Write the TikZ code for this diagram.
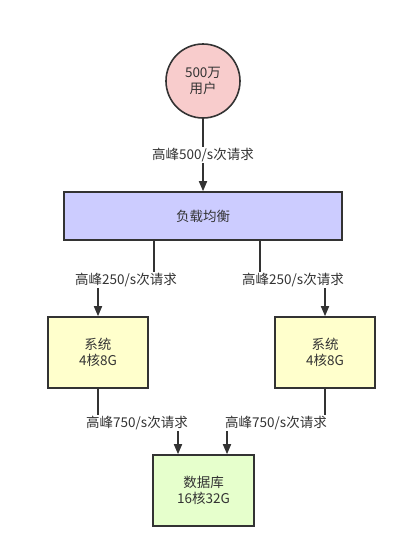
\documentclass[tikz,border=0pt]{standalone}
\usepackage{fontspec}
\setmainfont{Noto Sans CJK SC}
\usetikzlibrary{arrows.meta}
\definecolor{inkgray}{HTML}{333333}
\definecolor{userpink}{HTML}{F8CCCC}
\definecolor{lbblue}{HTML}{CCCCFF}
\definecolor{sysyellow}{HTML}{FFFFCC}
\definecolor{dbgreen}{HTML}{E6FFCC}

\begin{document}
\begin{tikzpicture}[x=1pt,y=-1pt,
    every node/.style={font=\fontsize{13.5}{16.5}\selectfont,text=inkgray,align=center},
    box/.style={draw=inkgray,line width=1.6pt,inner sep=0pt},
    flow/.style={draw=inkgray,line width=1.6pt,-{Triangle[length=10pt,width=8pt]}},
    rate/.style={fill=white,inner sep=1.5pt}]
            \useasboundingbox (0,0) rectangle (408,558);
            % nodes
            \node[box,circle,fill=userpink,minimum size=74pt] (users) at (203,81) {500万\\用户};
            \node[box,fill=lbblue,minimum width=278pt,minimum height=48pt] (lb) at (203,216) {负载均衡};
            \node[box,fill=sysyellow,minimum width=100pt,minimum height=71pt] (sysL) at (98,352.5) {系统\\4核8G};
            \node[box,fill=sysyellow,minimum width=100pt,minimum height=71pt] (sysR) at (325,352.5) {系统\\4核8G};
            \node[box,fill=dbgreen,minimum width=101pt,minimum height=71pt] (db) at (203.5,490.5) {数据库\\16核32G};
            % bends under the rate labels
            \coordinate (bendL) at (126,280);
            \coordinate (bendR) at (293,280);
            \coordinate (bendDL) at (137,423);
            \coordinate (bendDR) at (276,423);
            % connectors
            \draw[flow] (users) -- (lb) node[rate,midway] {高峰500/s次请求};
            \draw[flow] ([xshift=-49pt]lb.south) |- (bendL) -| (sysL.north) node[rate] at (bendL) {高峰250/s次请求};
            \draw[flow] ([xshift=57pt]lb.south) |- (bendR) -| (sysR.north) node[rate] at (bendR) {高峰250/s次请求};
            \draw[flow] (sysL.south) |- (bendDL) -| ([xshift=-25.5pt]db.north) node[rate] at (bendDL) {高峰750/s次请求};
            \draw[flow] (sysR.south) |- (bendDR) -| ([xshift=23.5pt]db.north) node[rate] at (bendDR) {高峰750/s次请求};
\end{tikzpicture}
\end{document}
